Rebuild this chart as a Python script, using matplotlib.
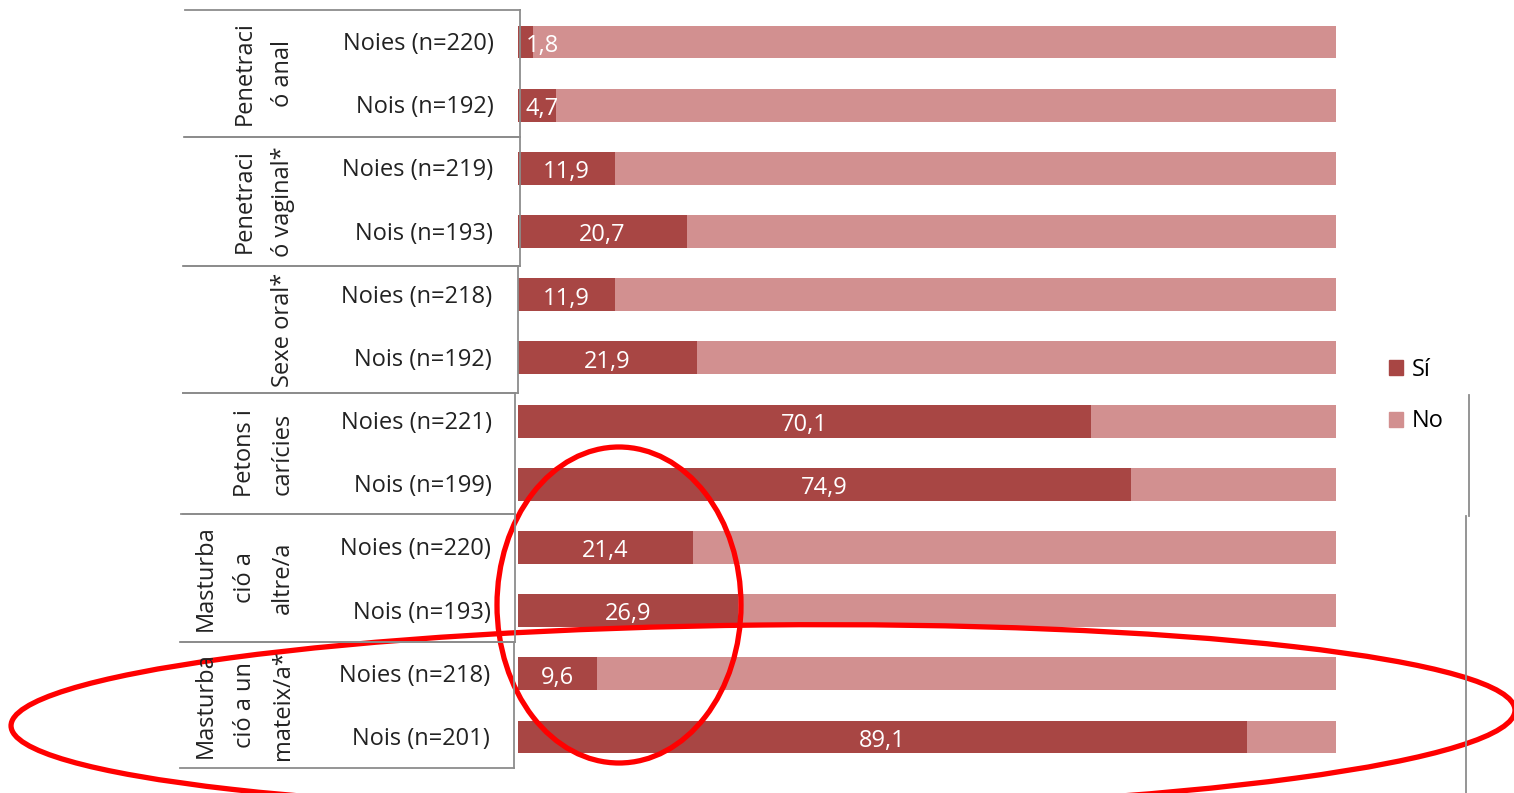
import matplotlib.pyplot as plt
from matplotlib.patches import Ellipse, Patch
import numpy as np

# Dades: % que ha practicat cada conducta (Sí), la resta és No
grups = ['Penetraci\nó anal', 'Penetraci\nó vaginal*', 'Sexe oral*',
         'Petons i\ncarícies', 'Masturba\nció a\naltre/a', 'Masturba\nció a un\nmateix/a*']
files = ['Noies (n=220)', 'Nois (n=192)',
         'Noies (n=219)', 'Nois (n=193)',
         'Noies (n=218)', 'Nois (n=192)',
         'Noies (n=221)', 'Nois (n=199)',
         'Noies (n=220)', 'Nois (n=193)',
         'Noies (n=218)', 'Nois (n=201)']
si = np.array([1.8, 4.7, 11.9, 20.7, 11.9, 21.9, 70.1, 74.9, 21.4, 26.9, 9.6, 89.1])
no = 100 - si

col_si = '#A84644'
col_no = '#D29090'
font = 'Open Sans'
fs = 17
W, H = 1514, 793

fig = plt.figure(figsize=(W / 100, H / 100), dpi=100)
plt.rcParams['font.family'] = [font, 'DejaVu Sans']

# eix de les barres (en píxels de figura)
x0, x1 = 518, 1336
y_top, y_bot = 10.4, 768.6
ax = fig.add_axes([x0 / W, 1 - y_bot / H, (x1 - x0) / W, (y_bot - y_top) / H])
y = np.arange(len(si))
ax.barh(y, si, height=0.52, color=col_si)
ax.barh(y, no, left=si, height=0.52, color=col_no)
ax.set_xlim(0, 100)
ax.set_ylim(len(si) - 0.5, -0.5)
ax.axis('off')

for i, v in enumerate(si):
    ax.text(max(v / 2, 3.0), i + 0.06, f'{v:.1f}'.replace('.', ','), color='white',
            ha='center', va='center', fontsize=fs)

# capa superposada en píxels per a la taula, la llegenda i les el·lipses
ov = fig.add_axes([0, 0, 1, 1], zorder=5)
ov.set_xlim(0, W)
ov.set_ylim(H, 0)
ov.axis('off')
ov.patch.set_alpha(0)

vores = [10, 137, 266, 393, 514, 642, 768]
dreta = [520, 520, 518, 515, 515, 514]
esq = [185, 184, 183, 183, 181, 180]
gris = '#8c8c8c'
for g in range(6):
    ya, yb = vores[g], vores[g + 1]
    ov.plot([esq[g], dreta[g]], [ya, ya], color=gris, lw=1.3)
    ov.plot([esq[g], dreta[g]], [yb, yb], color=gris, lw=1.3)
    ov.plot([dreta[g], dreta[g]], [ya, yb], color=gris, lw=1.3)
    ov.text(295, (ya + yb) / 2, grups[g], rotation=90, ha='right', va='center',
            fontsize=fs, color='#222222', linespacing=1.8, multialignment='center')

centres = np.linspace(42, 737, len(files))
for i, t in enumerate(files):
    xr = 494 - 4 * (i / (len(files) - 1))
    ov.text(xr, centres[i] + 2, t, ha='right', va='center', fontsize=fs, color='#222222')

# línies verticals a la dreta
ov.plot([1469, 1469], [395, 516], color=gris, lw=1.3)
ov.plot([1466, 1466], [516, 793], color=gris, lw=1.3)

# llegenda
handles = [Patch(color=col_si, label='Sí'), Patch(color=col_no, label='No')]
fig.legend(handles=handles, loc='upper left', bbox_to_anchor=(1368 / W, 1 - 337 / H),
           frameon=False, fontsize=fs, handlelength=0.6, handleheight=0.6,
           handletextpad=0.35, labelspacing=1.15)

# el·lipses vermelles
ov.add_patch(Ellipse((619, 605), 244, 316, fill=False, edgecolor='#ff0000', lw=3.8))
ov.add_patch(Ellipse((763, 718), 1504, 186, angle=-0.6, fill=False, edgecolor='#ff0000', lw=3.8))

fig.savefig('out.png', dpi=100)
